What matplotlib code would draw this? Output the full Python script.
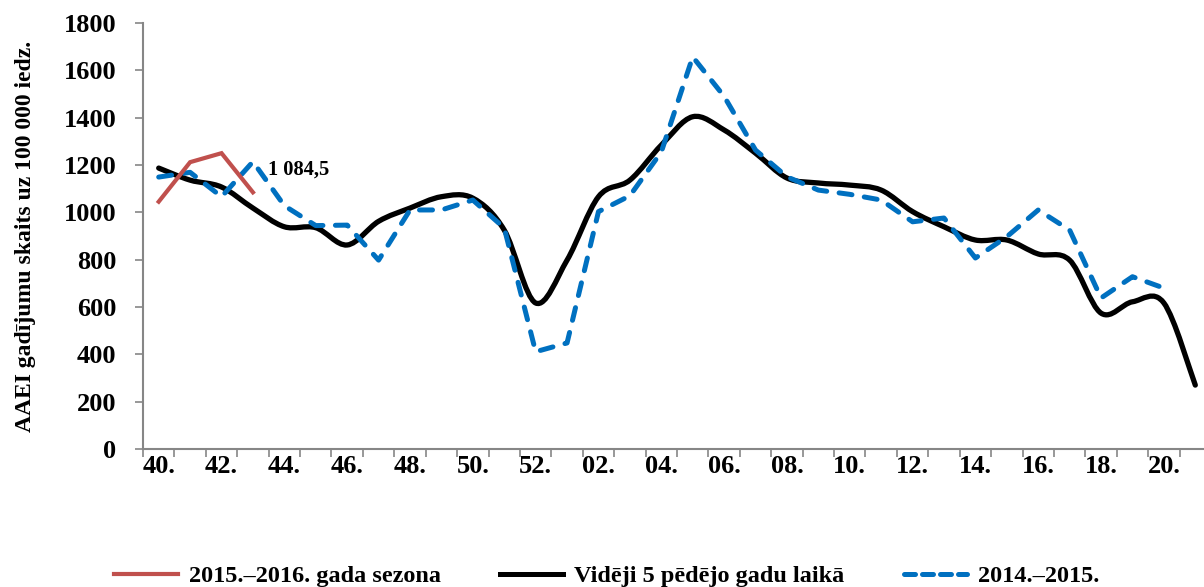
import numpy as np
import matplotlib
matplotlib.use('Agg')
import matplotlib.pyplot as plt
from matplotlib.path import Path
from matplotlib.patches import PathPatch
from matplotlib.lines import Line2D

plt.rcParams['font.family'] = ['Liberation Serif', 'DejaVu Serif']
plt.rcParams['font.weight'] = 'bold'

# Weeks of the flu season
weeks = ['%d.' % w for w in range(40, 53)] + ['%02d.' % w for w in range(1, 22)]

season_2015_16 = [1045, 1212, 1250, 1084.5]
avg_5_years = [1187, 1136, 1107, 1018, 939, 935, 862, 962, 1018, 1066, 1060, 925,
               617, 798, 1066, 1136, 1284, 1404, 1348, 1250, 1145, 1124, 1115, 1094,
               1003, 939, 883, 883, 824, 798, 574, 622, 617, 270]
season_2014_15 = [1149, 1169, 1066, 1214, 1028, 944, 946, 798, 1010, 1010, 1052, 934,
                  411, 448, 1003, 1070, 1255, 1657, 1490, 1263, 1150, 1094, 1076, 1052,
                  960, 976, 807, 897, 1010, 925, 638, 728, 680]

grey = '#868686'
red = '#c0504d'
blue = '#0070c0'

fig = plt.figure(figsize=(12.04, 5.87), dpi=100, facecolor='white')
ax = fig.add_axes([143 / 1204, 138 / 587, 1068 / 1204, 426 / 587])


def smooth_path(x, y):
    # Excel-style smoothed line: cubic Bezier through every point
    pts = np.column_stack([x, y]).astype(float)
    n = len(pts)
    verts = [pts[0]]
    codes = [Path.MOVETO]
    for i in range(n - 1):
        p0 = pts[max(i - 1, 0)]
        p1 = pts[i]
        p2 = pts[i + 1]
        p3 = pts[min(i + 2, n - 1)]
        verts += [p1 + (p2 - p0) / 6, p2 - (p3 - p1) / 6, p2]
        codes += [Path.CURVE4] * 3
    return Path(verts, codes)


xs = np.arange(len(weeks))
ax.add_patch(PathPatch(smooth_path(xs, avg_5_years), fill=False, ec='black',
                       lw=3.8, capstyle='round', joinstyle='round', zorder=3))
ax.plot(xs[:len(season_2014_15)], season_2014_15, color=blue, lw=3.6,
        dashes=(2.6, 2.5), dash_capstyle='round', dash_joinstyle='round', zorder=4)
ax.plot(xs[:len(season_2015_16)], season_2015_16, color=red, lw=3,
        solid_joinstyle='miter', zorder=5)

ax.annotate('1 084,5', xy=(3, season_2015_16[3]), xytext=(15, 23),
            textcoords='offset pixels', ha='left', va='center', fontsize=14.8,
            fontweight='bold')

ax.set_xlim(-0.5, len(weeks) - 0.5)
ax.set_ylim(0, 1800)
ax.set_yticks(np.arange(0, 1801, 200))
ax.set_xticks(xs[::2])
ax.set_xticklabels(weeks[::2])
ax.set_xticks(np.arange(-0.5, len(weeks)), minor=True)

for s in ['top', 'right']:
    ax.spines[s].set_visible(False)
for s in ['left', 'bottom']:
    ax.spines[s].set_color(grey)
    ax.spines[s].set_linewidth(1.5)

ax.tick_params(axis='y', length=6, width=1.2, color=grey, labelsize=19, pad=13)
ax.tick_params(axis='x', which='major', length=0, labelsize=19, pad=4)
ax.tick_params(axis='x', which='minor', length=6, width=1.2, color=grey)

ax.set_ylabel('AAEI gadījumu skaits uz 100 000 iedz.', fontsize=17,
              fontweight='bold')
ax.yaxis.set_label_coords(-0.1, 0.5)

handles = [
    Line2D([], [], color=red, lw=3),
    Line2D([], [], color='black', lw=3.6),
    Line2D([], [], color=blue, lw=3.6, dashes=(2.2, 1.4), dash_capstyle='round'),
]
labels = ['2015.–2016. gada sezona', 'Vidēji 5 pēdējo gadu laikā', '2014.–2015.']
fig.legend(handles, labels, loc='center', bbox_to_anchor=(607 / 1204, 1 - 576 / 587),
           ncol=3, frameon=False, handlelength=2.6, handletextpad=0.45,
           columnspacing=2.45, prop={'size': 17.5, 'weight': 'bold'})

fig.savefig('out.png', dpi=100, facecolor='white')
